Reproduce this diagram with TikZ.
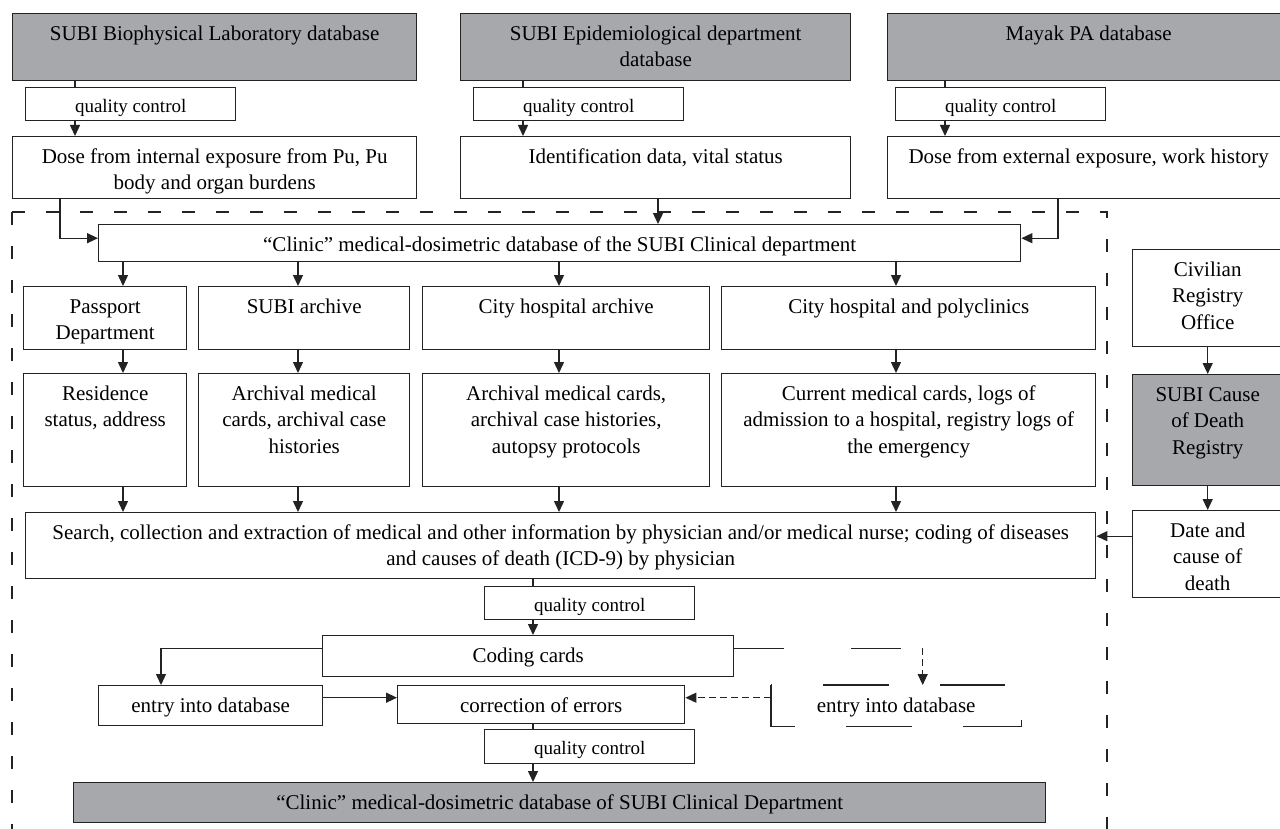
\documentclass[tikz,border=0pt]{standalone}
\usepackage{fontspec}
\setmainfont{Liberation Serif}
\usetikzlibrary{arrows.meta}
\definecolor{subigray}{RGB}{167,168,172}
\definecolor{lncol}{RGB}{35,35,35}
% box text: width, height (in px), text at the top
\newcommand{\bx}[3]{\parbox[c][\dimexpr#2pt/2\relax][t]{\dimexpr#1pt/2\relax}{\centering\vspace*{3.9pt}\strut#3\par}}
\tikzset{
  box/.style={draw=lncol,line width=0.7pt,fill=white,inner sep=0pt,anchor=north west,
    font=\fontsize{10.5}{13.3}\selectfont},
  grbox/.style={box,fill=subigray},
  qcbox/.style={box,font=\fontsize{9.5}{12}\selectfont},
  ln/.style={draw=lncol,line width=0.7pt},
  arr/.style={ln,->},
  dsharr/.style={arr,dash pattern=on 3.5pt off 2pt},
  longdsh/.style={ln,dash pattern=on 25pt off 33.5pt},
  frame/.style={ln,dash pattern=on 6.5pt off 10.5pt}
}
\begin{document}
\begin{tikzpicture}[x=0.5pt,y=-0.5pt,>={Triangle[length=5.5pt,width=5pt]}]
\useasboundingbox (0,0) rectangle (1280,829);
\clip (0,0) rectangle (1280,829);
%===========================================
\draw[frame] (12,212) -- (12,840);
\draw[frame] (12,212) -- (1107,212) -- (1107,840);
% sources
\node[grbox] (B1) at (12,13) {\bx{404}{67}{SUBI Biophysical Laboratory database}};
\node[grbox] (B2) at (460,13) {\bx{390}{67}{SUBI Epidemiological department\\database}};
\node[grbox] (B3) at (887,13) {\bx{402}{67}{Mayak PA database}};
\node[qcbox] (Q1) at (25,87) {\bx{210}{33}{quality control}};
\node[qcbox] (Q2) at (473,87) {\bx{210}{33}{quality control}};
\node[qcbox] (Q3) at (895,87) {\bx{210}{33}{quality control}};
\node[box] (D1) at (12,136) {\bx{404}{62}{Dose from internal exposure from Pu, Pu\\body and organ burdens}};
\node[box] (D2) at (460,136) {\bx{390}{62}{Identification data, vital status}};
\node[box] (D3) at (887,136) {\bx{402}{62}{Dose from external exposure, work history}};
% clinic
\node[box] (C) at (98,224) {\bx{922}{37}{“Clinic” medical-dosimetric database of the SUBI Clinical department}};
\node[box] (P1) at (23,286) {\bx{163}{63}{Passport\\Department}};
\node[box] (P2) at (198,286) {\bx{211}{63}{SUBI archive}};
\node[box] (P3) at (422,286) {\bx{287}{63}{City hospital archive}};
\node[box] (P4) at (721,286) {\bx{374}{63}{City hospital and polyclinics}};
\node[box] (R1) at (23,373) {\bx{163}{113}{Residence\\status, address}};
\node[box] (R2) at (198,373) {\bx{211}{113}{Archival medical\\cards, archival case\\histories}};
\node[box] (R3) at (422,373) {\bx{287}{113}{Archival medical cards,\\archival case histories,\\autopsy protocols}};
\node[box] (R4) at (721,373) {\bx{374}{113}{Current medical cards, logs of\\admission to a hospital, registry logs of\\the emergency}};
\node[box] (S) at (25,512) {\bx{1070}{66}{Search, collection and extraction of medical and other information by physician and/or medical nurse; coding of diseases\\and causes of death (ICD-9) by physician}};
\node[qcbox] (Q4) at (484,586) {\bx{210}{33}{quality control}};
\node[box] (K) at (322,635) {\bx{411}{41}{Coding cards}};
\node[box] (E1) at (98,685) {\bx{224}{40}{entry into database}};
\node[box] (E2) at (397,685) {\bx{287}{38}{correction of errors}};
\node[box,draw=none,fill=none] (E3) at (771,685) {\bx{249}{40}{entry into database}};
\node[qcbox] (Q5) at (484,729) {\bx{210}{34}{quality control}};
\node[grbox] (F) at (73,782) {\bx{972}{40}{“Clinic” medical-dosimetric database of SUBI Clinical Department}};
% death registry
\node[box] (CRO) at (1132,249) {\bx{150}{97}{Civilian\\Registry\\Office}};
\node[grbox] (SCD) at (1132,374) {\bx{150}{111}{SUBI Cause\\of Death\\Registry}};
\node[box] (DCD) at (1132,510) {\bx{150}{87}{Date and\\cause of\\death}};
%===========================================
\foreach \i in {1,2,3}{
  \draw[ln] ([xshift=25pt]Q\i.north west |- B\i.south) -- ([xshift=25pt]Q\i.north west);
  \draw[arr] ([xshift=25pt]Q\i.south west) -- ([xshift=25pt]Q\i.south west |- D\i.north);
}
\draw[arr] ([xshift=24pt]D1.south west) |- ([yshift=2.5pt]C.west);
\draw[arr] ([xshift=99pt]D2.south west) -- ([xshift=99pt]D2.south west |- C.north);
\draw[arr] ([xshift=85.5pt]D3.south west) |- ([yshift=2.5pt]C.east);
\foreach \i/\dx in {1/50pt,2/50pt,3/68.5pt,4/87.5pt}{
  \coordinate (p\i) at ([xshift=\dx]P\i.north west);
  \draw[arr] (p\i |- C.south) -- (p\i);
  \draw[arr] (p\i |- P\i.south) -- (p\i |- R\i.north);
  \draw[arr] (p\i |- R\i.south) -- (p\i |- S.north);
}
\draw[arr] (CRO.south) -- (SCD.north);
\draw[arr] (SCD.south) -- (DCD.north);
\draw[arr] ([yshift=9pt]DCD.west) -- ([yshift=9pt]DCD.west -| S.east);
% coding
\draw[ln] ([xshift=24.5pt]Q4.north west |- S.south) -- ([xshift=24.5pt]Q4.north west);
\draw[arr] ([xshift=24.5pt]Q4.south west) -- ([xshift=24.5pt]Q4.south west |- K.north);
\draw[arr] ([yshift=4pt]K.west) -| ([xshift=31.5pt]E1.north west);
\draw[arr] ([yshift=4pt]E1.east) -- ([yshift=4pt]E1.east -| E2.west);
\coordinate (Kr) at ([yshift=4pt]K.east);
\coordinate (Ein) at ([xshift=13.25pt]E3.north);
\draw[longdsh] (Kr) -- (Kr -| Ein);
\draw[dsharr] (Kr -| Ein) -- (Ein);
\draw[longdsh,dash pattern=on 32.75pt off 25.5pt] (E3.north west) -- (E3.south west) -- (E3.south east) -- (E3.north east) -- cycle;
\draw[dsharr] ([yshift=4pt]E3.west) -- ([yshift=4pt]E3.west -| E2.east);
\draw[ln] ([xshift=24.5pt]Q5.north west |- E2.south) -- ([xshift=24.5pt]Q5.north west);
\draw[arr] ([xshift=24.5pt]Q5.south west) -- ([xshift=24.5pt]Q5.south west |- F.north);
\end{tikzpicture}
\end{document}
